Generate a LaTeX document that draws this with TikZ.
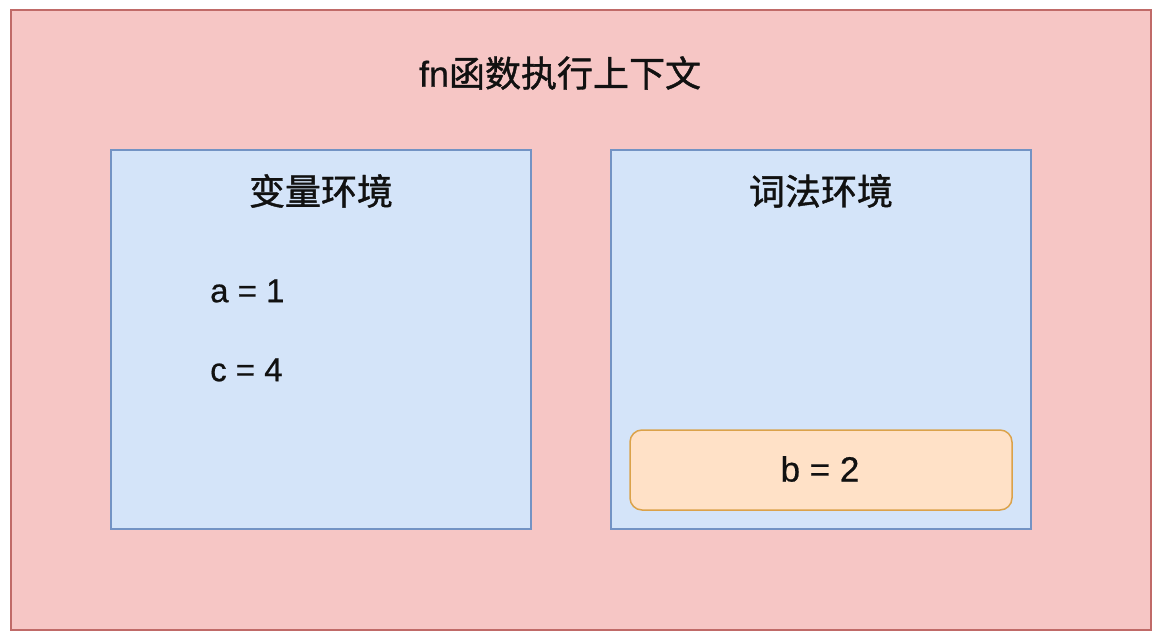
\documentclass[tikz,border=0pt]{standalone}
\usepackage{fontspec}
\setmainfont{Liberation Sans}
\newfontfamily\cjk[FakeBold=1.2]{Noto Sans CJK SC}
\newfontfamily\latin[FakeBold=0.6]{Liberation Sans}
\definecolor{redfill}{HTML}{F6C6C5}
\definecolor{redline}{HTML}{C06A68}
\definecolor{bluefill}{HTML}{D4E4F9}
\definecolor{blueline}{HTML}{7393C4}
\definecolor{orgfill}{HTML}{FFE1C7}
\definecolor{orgline}{HTML}{DBA24A}
\definecolor{txt}{HTML}{111111}
\tikzset{
  outerbox/.style={draw=redline, fill=redfill, line width=1.5pt},
  envbox/.style={draw=blueline, fill=bluefill, line width=1.5pt},
  valbox/.style={draw=orgline, fill=orgfill, line width=1.5pt, rounded corners=12pt},
  cjktitle/.style={text=txt, font=\fontsize{36}{40}\selectfont\cjk, inner sep=0pt},
  vartxt/.style={text=txt, font=\fontsize{33}{38}\selectfont\latin, inner sep=0pt}
}
\begin{document}
\begin{tikzpicture}[x=1pt,y=-1pt]
\useasboundingbox (0,0) rectangle (1164,644);
\draw[outerbox] (11,10) rectangle (1151,630);
\node[cjktitle] (title) at (560,73) {{\fontsize{36}{40}\selectfont\latin fn}函数执行上下文};
\draw[envbox] (111,150) rectangle (531,529);
\draw[envbox] (611,150) rectangle (1031,529);
\node[cjktitle] (varenv) at (321,191) {变量环境};
\node[cjktitle] (lexenv) at (821,191) {词法环境};
\node[vartxt, anchor=west] (a) at (210,291) {a = 1};
\node[vartxt, anchor=west] (c) at (210,370) {c = 4};
\draw[valbox] (630,430) rectangle (1012,510);
\node[vartxt, font=\fontsize{35}{40}\selectfont\latin] (b) at (820,469) {b = 2};
\end{tikzpicture}
\end{document}
